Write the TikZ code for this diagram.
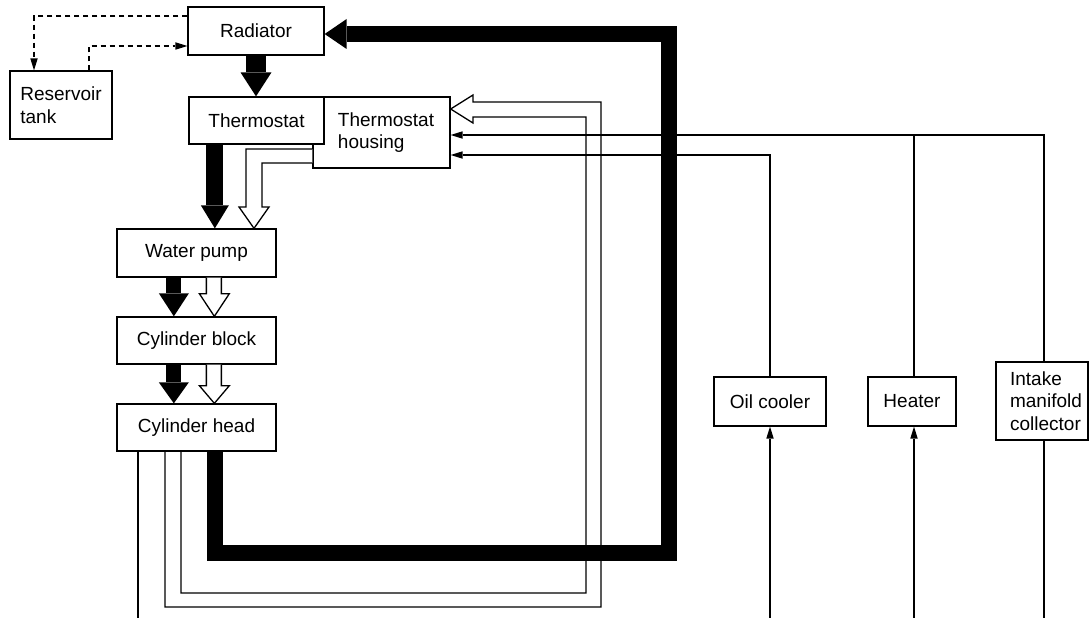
\documentclass[tikz,border=0pt]{standalone}
\usepackage{fontspec}
\setmainfont{Liberation Sans}
\usetikzlibrary{arrows.meta,calc}
\begin{document}
\begin{tikzpicture}[x=1pt,y=-1pt,
  box/.style={draw, line width=1.3pt, fill=white, inner sep=0pt,
    font=\fontsize{19}{22.5}\selectfont, align=center},
  wire/.style={line width=1.3pt},
  dashline/.style={line width=1.3pt, dash pattern=on 5pt off 4pt},
  tipS/.style={-{Triangle[length=12pt,width=7.5pt,line width=0pt]}},
  hollow/.style={line width=1.3pt, fill=white, line join=miter},
  pipe/.style={line width=1.3pt, line join=miter},
  blk/.style={line width=#1, line join=miter}
]
\useasboundingbox (0,0) rectangle (1089,618);

% boxes
\node[box, minimum width=136pt, minimum height=48pt] (rad) at (256,31) {Radiator};
\node[box, minimum width=102pt, minimum height=68pt, align=left] (res) at (61,105) {Reservoir\\tank};
\node[box, minimum width=137pt, minimum height=71pt, align=left] (hs) at (381.5,132.5)
  {\hspace*{9pt}Thermostat\\\hspace*{9pt}housing};
\node[box, minimum width=135pt, minimum height=47pt] (th) at (256.5,120.5) {Thermostat};
\node[box, minimum width=159pt, minimum height=48pt] (wp) at (196.5,253) {Water pump};
\node[box, minimum width=159pt, minimum height=47pt] (cb) at (196.5,340.5) {Cylinder block};
\node[box, minimum width=159pt, minimum height=47pt] (ch) at (196.5,427.5) {Cylinder head};
\node[box, minimum width=112pt, minimum height=49pt] (oc) at (770,401.5) {Oil cooler};
\node[box, minimum width=88pt, minimum height=49pt] (ht) at (912,401.5) {Heater};
\node[box, minimum width=92pt, minimum height=78pt, align=left] (im) at (1042,401)
  {\hspace*{8pt}Intake\\\hspace*{8pt}manifold\\\hspace*{8pt}collector};

% free ends at the bottom edge
\coordinate (e0) at (138,618);
\coordinate (e1) at (770,618);
\coordinate (e2) at (914,618);
\coordinate (e3) at (1044,618);

% big hollow pipe: cylinder head -> thermostat housing
\draw[pipe] (ch.south -| 165,0) -- (165,607) -- (601,607) -- (601,102) -- (473,102)
  -- (473,95) -- (hs.east |- 0,109) -- (473,123) -- (473,117) -- (586,117)
  -- (586,593) -- (181,593) -- (ch.south -| 181,0);

% big black pipe: cylinder head -> radiator
\draw[blk=16pt, -{Triangle[length=22pt,width=30pt,line width=0pt]}]
  (ch.south -| 215,0) -- (215,553) -- (669,553) -- (669,34) -- (rad.east |- 0,34);

% black arrows between boxes
\draw[blk=20pt, -{Triangle[length=24pt,width=31pt,line width=0pt]}]
  (rad.south) -- (rad.south |- th.north);
\draw[blk=17pt, -{Triangle[length=23pt,width=28pt,line width=0pt]}]
  ($(th.south west)+(26.5,0)$) coordinate (a1) -- (a1 |- wp.north);
\draw[blk=15pt, -{Triangle[length=23pt,width=30pt,line width=0pt]}]
  ($(wp.south west)+(57.5,0)$) coordinate (a2) -- (a2 |- cb.north);
\draw[blk=15pt, -{Triangle[length=21pt,width=30pt,line width=0pt]}]
  ($(cb.south west)+(57.5,0)$) coordinate (a3) -- (a3 |- ch.north);

% hollow arrows
\draw[hollow] (hs.west |- 0,149) -- (246,149) -- (246,207) -- (239,207)
  -- (wp.north -| 254,0) -- (269,207) -- (262,207) -- (262,163) -- (hs.west |- 0,163);
\draw[hollow] ($(wp.south west)+(90,0)$) -- ++(0,16) -- ++(-7,0)
  -- ($(wp.south west |- cb.north)+(98,0)$) -- ($(wp.south west)+(113,16)$)
  -- ++(-8,0) -- ($(wp.south west)+(105,0)$);
\draw[hollow] ($(cb.south west)+(90,0)$) -- ++(0,21) -- ++(-7,0)
  -- ($(cb.south west |- ch.north)+(98,0)$) -- ($(cb.south west)+(113,21)$)
  -- ++(-8,0) -- ($(cb.south west)+(105,0)$);

% thin lines
\draw[wire, tipS] (oc.north) -- (770,155) -- (hs.east |- 0,155);
\draw[wire] (ht.north -| 914,0) -- (914,135);
\draw[wire, tipS] (im.north -| 1044,0) -- (1044,135) -- (hs.east |- 0,135);
\draw[wire, tipS] (e1) -- (oc.south);
\draw[wire, tipS] (e2) -- (ht.south -| 914,0);
\draw[wire] (im.south -| 1044,0) -- (e3);
\draw[wire] (ch.south -| 138,0) -- (e0);

% dashed lines
\draw[dashline, tipS] (rad.west |- 0,16) -- (34,16) -- (res.north -| 34,0);
\draw[dashline, tipS] (res.north -| 89,0) -- (89,46) -- (rad.west |- 0,46);
\end{tikzpicture}
\end{document}
